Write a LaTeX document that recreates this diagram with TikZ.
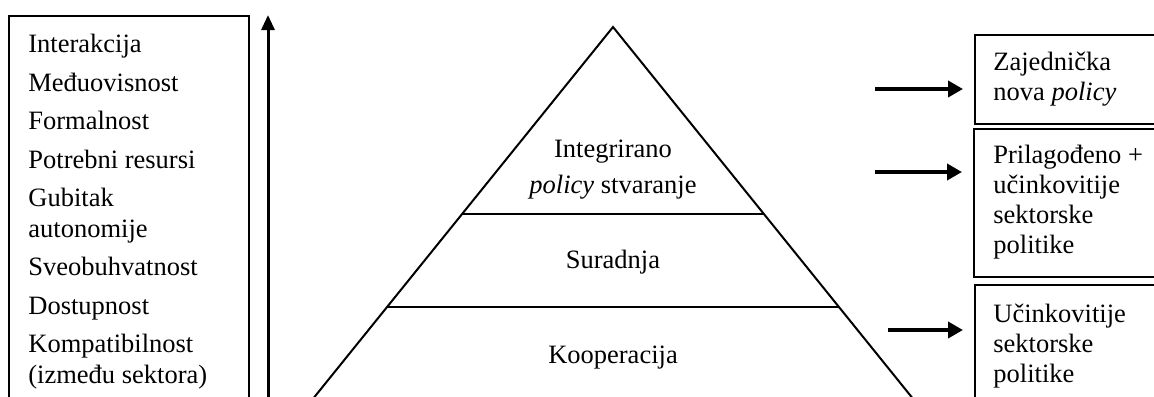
\documentclass[tikz,border=0pt]{standalone}
\usepackage{fontspec}
\setmainfont{Liberation Serif}
\usetikzlibrary{arrows.meta,calc}
\begin{document}
\begin{tikzpicture}[x=0.5pt,y=-0.5pt,
  big/.style={font=\fontsize{13.25pt}{15.25pt}\selectfont, inner sep=0pt, align=left},
  rbig/.style={font=\fontsize{13.25pt}{15pt}\selectfont, inner sep=0pt, align=left},
  small/.style={font=\fontsize{13.25pt}{18pt}\selectfont, inner sep=0pt, align=center},
  frame/.style={draw, line width=1pt, inner sep=0pt, anchor=north west},
  arr/.style={line width=2pt, -{Triangle[length=7.5pt,width=8pt]}},
  vert/.style={line width=1.5pt, -{Triangle[length=7.5pt,width=6.5pt]}},
  side/.style={line width=1pt},
  level/.style={line width=1.3pt}]
\clip (0,0) rectangle (1154,396);
% left box
\node[frame, minimum width=120pt, minimum height=215pt] (lbox) at (8,15) {};
\node[big, anchor=base west] (factors) at (28,383) {Interakcija\\[4pt]Međuovisnost\\[4pt]Formalnost\\[4pt]Potrebni resursi\\[4pt]Gubitak\\autonomije\\[4pt]Sveobuhvatnost\\[4pt]Dostupnost\\[4pt]Kompatibilnost\\(između sektora)};
% vertical arrow
\coordinate (vb) at (268,400);
\coordinate (vt) at (268,15);
\draw[vert] (vb) -- (vt);
% pyramid
\coordinate (apex) at (613,27);
\coordinate (bl) at (312,400);
\coordinate (br) at (914,400);
\draw[side, line join=miter] (bl) -- (apex) -- (br);
\draw[level] ($(apex)!0.5013!(bl)$) -- ($(apex)!0.5013!(br)$);
\draw[level] ($(apex)!0.7507!(bl)$) -- ($(apex)!0.7507!(br)$);
\node[small, anchor=base] (top) at (613,193) {Integrirano\\\textit{policy} stvaranje};
\node[small, anchor=base] (mid) at (613,268) {Suradnja};
\node[small, anchor=base] (bot) at (613,363) {Kooperacija};
% right boxes
\node[frame, minimum width=100pt, minimum height=44.5pt] (box1) at (974,34) {};
\node[frame, minimum width=100pt, minimum height=74pt] (box2) at (973,128) {};
\node[frame, minimum width=100pt, minimum height=70pt] (box3) at (974,284) {};
\node[rbig, anchor=base west] (t1) at (993,100) {Zajednička\\nova \textit{policy}};
\node[rbig, anchor=base west] (t2) at (993,253) {Prilagođeno +\\učinkovitije\\sektorske\\politike};
\node[rbig, anchor=base west] (t3) at (993,382) {Učinkovitije\\sektorske\\politike};
% arrows
\coordinate (s1) at (875,89);
\coordinate (s2) at (875,172);
\coordinate (s3) at (888,330);
\draw[arr, shorten >=5.5pt] (s1) -- (s1 -| box1.west);
\draw[arr, shorten >=5.5pt] (s2) -- (s2 -| box2.west);
\draw[arr, shorten >=5.5pt] (s3) -- (s3 -| box3.west);
\end{tikzpicture}
\end{document}
